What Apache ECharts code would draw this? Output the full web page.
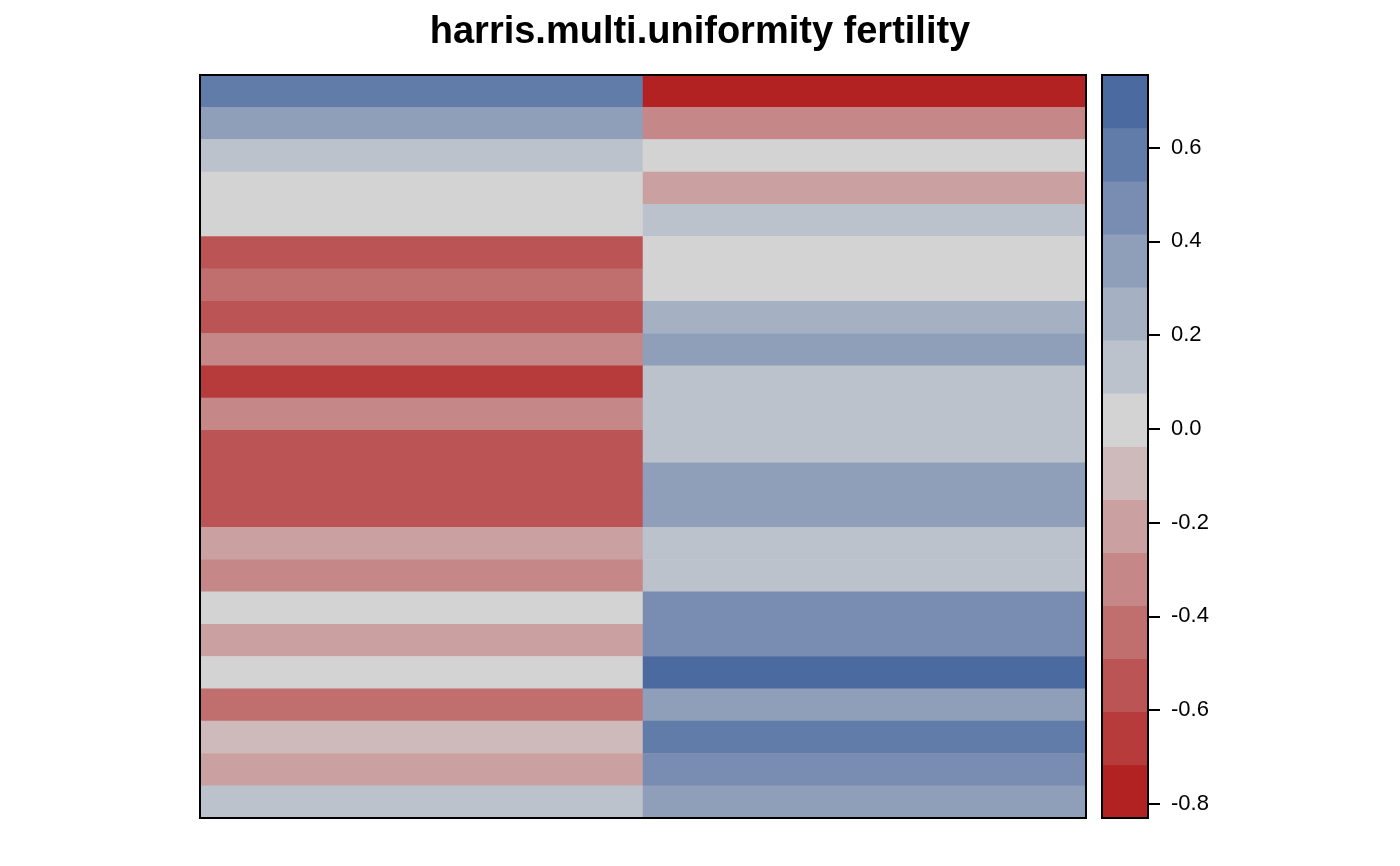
<!DOCTYPE html>
<html>
<head>
<meta charset="utf-8">
<script src="https://cdn.jsdelivr.net/npm/echarts@6/dist/echarts.min.js"></script>
<style>
html,body{margin:0;padding:0;background:#ffffff;}
#chart{width:1400px;height:866px;}
</style>
</head>
<body>
<div id="chart"></div>
<script>
// ---- data ----
const titleText = 'harris.multi.uniformity fertility';
const columns = ['column 1', 'column 2'];
const rows = ['1','2','3','4','5','6','7','8','9','10','11','12','13','14','15','16','17','18','19','20','21','22','23'];
const leftValues = [0.58, 0.36, 0.13, 0.02, -0.01, -0.55, -0.44, -0.53, -0.32, -0.66, -0.31, -0.56, -0.54, -0.55,
                    -0.21, -0.33, 0.03, -0.20, 0.01, -0.43, -0.09, -0.22, 0.12];
const rightValues = [-0.830, -0.32, 0.00, -0.21, 0.14, 0.04, 0.02, 0.25, 0.35, 0.15, 0.12, 0.13, 0.37, 0.34,
                     0.11, 0.14, 0.47, 0.46, 0.755, 0.36, 0.59, 0.48, 0.35];
const colorbarTicks = [-0.8, -0.6, -0.4, -0.2, 0.0, 0.2, 0.4, 0.6];
const palette = ['#b22222', '#b73b3b', '#bb5555', '#c06e6e', '#c58787', '#caa0a0', '#cebaba',
                 '#d3d3d3', '#bcc2cb', '#a5b0c2', '#8f9fba', '#788db1', '#617ca9', '#4a6aa0'];

// ---- derived ----
const fontFamily = "'Liberation Sans', Arial, Helvetica, sans-serif";
const allValues = leftValues.concat(rightValues);
const zMin = Math.min.apply(null, allValues);
const zMax = Math.max.apply(null, allValues);
const nBins = palette.length;
const binWidth = (zMax - zMin) / nBins;
const pieces = palette.map(function (c, i) {
  const p = { color: c };
  if (i > 0) p.gte = zMin + i * binWidth;
  if (i < nBins - 1) p.lt = zMin + (i + 1) * binWidth;
  return p;
});
const binCategories = palette.map(function (c, i) { return 'bin' + i; });
const colorbarData = palette.map(function (c, i) { return [0, i, zMin + (i + 0.5) * binWidth]; });
const heatData = [];
rows.forEach(function (r, i) {
  heatData.push([0, i, leftValues[i]]);
  heatData.push([1, i, rightValues[i]]);
});

const chart = echarts.init(document.getElementById('chart'), null, { renderer: 'canvas' });
chart.setOption({
  animation: false,
  backgroundColor: '#ffffff',
  title: {
    text: titleText,
    left: 'center',
    top: 14,
    padding: 0,
    textStyle: { fontFamily: fontFamily, fontSize: 38, fontWeight: 'bold', color: '#000000' }
  },
  grid: [
    { left: 200, top: 75, width: 886, height: 743, show: true, z: 10,
      borderColor: '#000000', borderWidth: 2, backgroundColor: 'transparent' },
    { left: 1102, top: 75, width: 46, height: 743, show: true, z: 10,
      borderColor: '#000000', borderWidth: 2, backgroundColor: 'transparent' }
  ],
  xAxis: [
    { type: 'category', gridIndex: 0, data: columns, show: false },
    { type: 'category', gridIndex: 1, data: ['scale'], show: false }
  ],
  yAxis: [
    { type: 'category', gridIndex: 0, data: rows, inverse: true, show: false },
    { type: 'category', gridIndex: 1, data: binCategories, show: false },
    { type: 'value', gridIndex: 1, position: 'right', min: zMin, max: zMax,
      axisLine: { show: false },
      splitLine: { show: false },
      axisTick: { show: true, inside: false, length: 12, customValues: colorbarTicks,
                  lineStyle: { color: '#000000', width: 2 } },
      axisLabel: { show: true, customValues: colorbarTicks, margin: 23, color: '#000000',
                   fontSize: 22, fontFamily: fontFamily,
                   formatter: function (v) { return Number(v).toFixed(1); } } }
  ],
  visualMap: {
    type: 'piecewise',
    show: false,
    dimension: 2,
    seriesIndex: [0, 1],
    pieces: pieces
  },
  series: [
    { type: 'heatmap', xAxisIndex: 0, yAxisIndex: 0, data: heatData,
      itemStyle: { borderWidth: 0 }, emphasis: { disabled: true } },
    { type: 'heatmap', xAxisIndex: 1, yAxisIndex: 1, data: colorbarData,
      itemStyle: { borderWidth: 0 }, emphasis: { disabled: true } }
  ]
});
</script>
</body>
</html>
